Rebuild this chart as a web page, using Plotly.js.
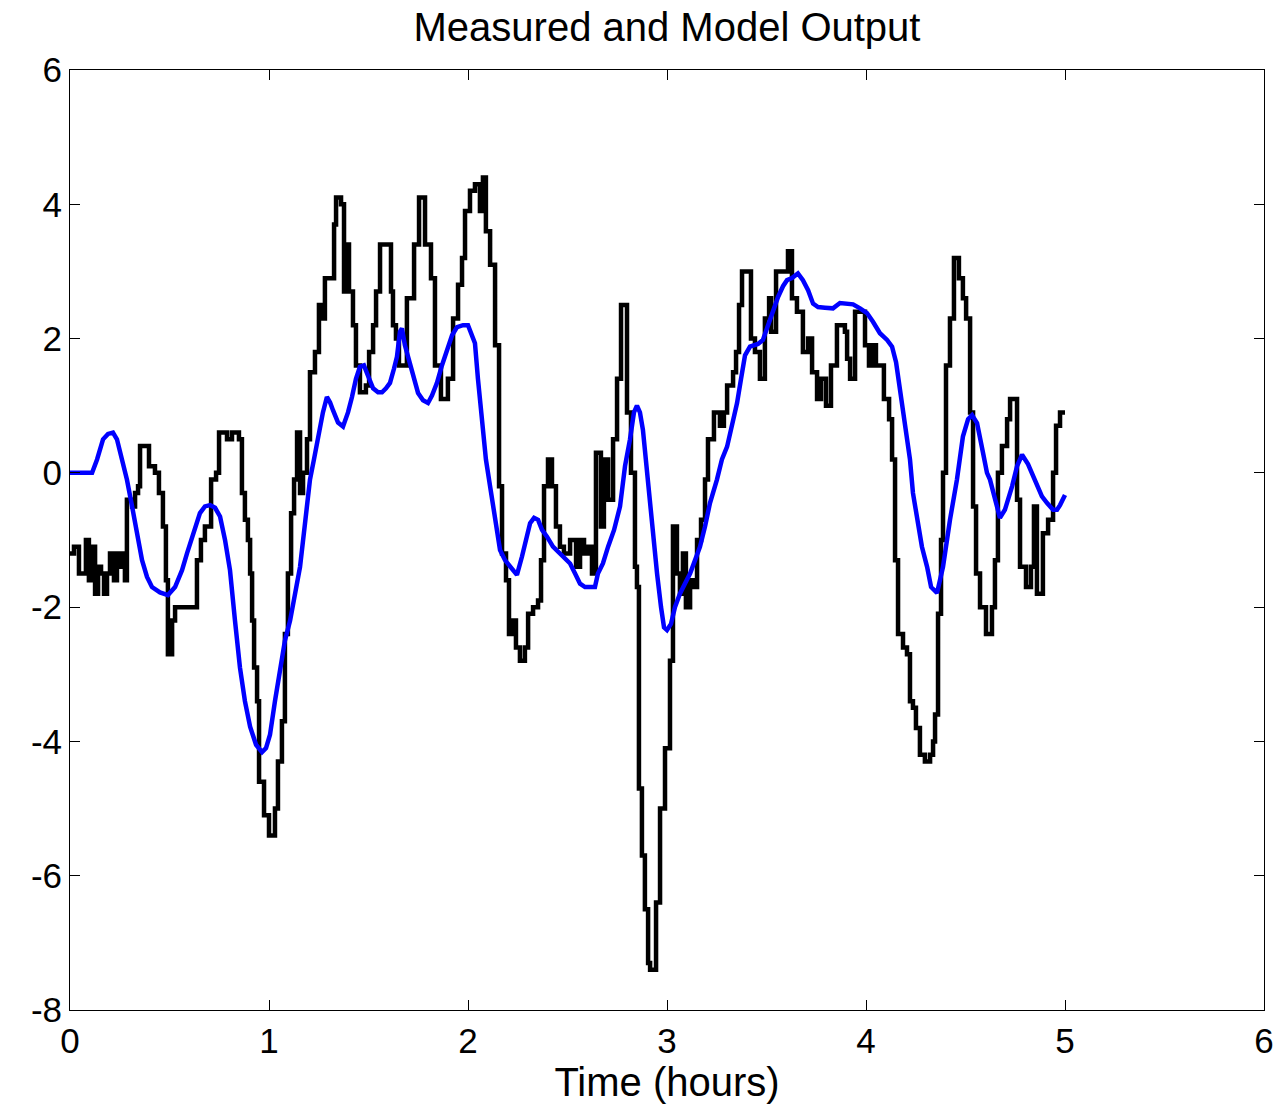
<!DOCTYPE html>
<html>
<head>
<meta charset="utf-8">
<script src="https://cdn.plot.ly/plotly-3.0.1.min.js"></script>
<style>html,body{margin:0;padding:0;background:#fff;}#chart{width:1274px;height:1106px;}</style>
</head>
<body>
<div id="chart"></div>
<script>
// Measured output (hours, value)
var measuredTime = [0.000,0.020,0.045,0.080,0.095,0.111,0.126,0.141,0.156,0.171,0.186,0.201,0.221,0.236,0.251,0.266,0.276,0.286,0.312,0.327,0.342,0.352,0.397,0.427,0.447,0.467,0.482,0.492,0.513,0.528,0.638,0.658,0.678,0.709,0.734,0.749,0.789,0.814,0.849,0.864,0.879,0.894,0.905,0.915,0.925,0.940,0.950,0.975,1.000,1.030,1.045,1.065,1.080,1.095,1.111,1.126,1.141,1.156,1.171,1.191,1.206,1.231,1.251,1.266,1.281,1.327,1.337,1.362,1.377,1.387,1.402,1.422,1.437,1.457,1.487,1.503,1.523,1.538,1.558,1.613,1.623,1.638,1.653,1.693,1.729,1.754,1.784,1.814,1.834,1.864,1.899,1.925,1.950,1.970,1.985,2.010,2.035,2.060,2.075,2.090,2.111,2.136,2.156,2.171,2.191,2.206,2.226,2.241,2.261,2.286,2.302,2.327,2.352,2.367,2.382,2.402,2.422,2.442,2.462,2.482,2.513,2.543,2.563,2.583,2.603,2.623,2.643,2.668,2.683,2.704,2.729,2.749,2.769,2.799,2.819,2.839,2.849,2.859,2.874,2.889,2.905,2.915,2.945,2.965,2.990,3.015,3.030,3.050,3.065,3.080,3.095,3.116,3.131,3.151,3.171,3.191,3.206,3.236,3.266,3.286,3.302,3.332,3.347,3.362,3.377,3.422,3.442,3.467,3.492,3.513,3.523,3.548,3.608,3.628,3.653,3.683,3.709,3.729,3.754,3.774,3.799,3.824,3.854,3.894,3.905,3.920,3.945,3.995,4.015,4.035,4.050,4.090,4.116,4.131,4.146,4.161,4.186,4.206,4.221,4.236,4.251,4.271,4.296,4.322,4.337,4.347,4.362,4.377,4.387,4.402,4.422,4.442,4.467,4.487,4.503,4.523,4.538,4.553,4.573,4.603,4.633,4.648,4.663,4.683,4.709,4.724,4.759,4.774,4.804,4.829,4.844,4.859,4.889,4.915,4.940,4.955,4.975,5.000];
var measuredValue = [-1.2,-1.1,-1.5,-1.0,-1.6,-1.1,-1.8,-1.4,-1.5,-1.8,-1.5,-1.2,-1.6,-1.2,-1.4,-1.2,-1.6,-0.4,-0.5,-0.3,-0.2,0.4,0.1,0.0,-0.3,-0.8,-1.6,-2.7,-2.2,-2.0,-1.3,-1.0,-0.8,-0.1,0.0,0.6,0.5,0.6,0.5,-0.3,-0.7,-1.0,-1.5,-2.2,-2.9,-3.4,-4.6,-5.1,-5.4,-5.0,-4.3,-3.7,-2.4,-1.5,-0.6,-0.1,0.6,-0.3,0.0,0.5,1.5,1.8,2.5,2.3,2.9,3.7,4.1,4.0,2.7,3.4,2.7,2.2,1.6,1.2,1.3,1.8,2.2,2.7,3.4,2.7,2.2,2.0,1.6,2.6,3.4,4.1,3.4,2.9,1.6,1.1,1.4,2.3,2.8,3.2,3.9,4.2,4.3,3.9,4.4,3.6,3.1,1.9,-0.2,-1.2,-1.6,-2.4,-2.2,-2.6,-2.8,-2.6,-2.1,-2.0,-1.9,-1.3,-0.2,0.2,-0.2,-0.8,-1.1,-1.2,-1.0,-1.4,-1.0,-1.2,-1.1,-1.5,0.3,-0.8,0.2,-0.4,0.5,1.4,2.5,0.9,0.0,-1.4,-1.7,-4.7,-5.7,-6.5,-7.3,-7.4,-6.4,-5.0,-4.1,-2.8,-0.8,-1.5,-1.8,-1.2,-2.0,-1.6,-1.7,-1.0,-0.7,-0.1,0.5,0.9,0.7,0.9,1.3,1.5,1.8,2.5,3.0,2.0,1.8,1.4,2.3,2.6,2.1,3.0,3.3,2.6,2.4,1.8,2.0,1.5,1.1,1.4,1.0,1.6,2.2,2.1,1.7,1.4,2.4,1.9,1.6,1.9,1.6,1.1,0.8,0.2,-1.3,-2.4,-2.6,-2.7,-3.4,-3.5,-3.8,-4.2,-4.3,-4.2,-4.0,-3.6,-2.1,-1.0,0.0,1.6,2.3,3.2,2.9,2.6,2.3,0.9,-0.5,-1.5,-2.0,-2.4,-2.0,-1.3,0.0,0.4,0.8,1.1,-0.4,-1.4,-1.7,-1.4,-0.5,-1.8,-0.9,-0.7,0.0,0.7,0.9,0.9];

// Model output (hours, value)
var modelTime = [0.000,0.111,0.136,0.166,0.191,0.216,0.236,0.261,0.286,0.312,0.337,0.362,0.387,0.412,0.452,0.492,0.528,0.563,0.588,0.618,0.653,0.678,0.704,0.729,0.754,0.779,0.804,0.829,0.854,0.879,0.905,0.935,0.965,0.985,1.005,1.030,1.055,1.080,1.106,1.131,1.156,1.181,1.206,1.226,1.246,1.271,1.291,1.307,1.322,1.347,1.372,1.397,1.417,1.437,1.457,1.477,1.497,1.523,1.548,1.568,1.588,1.608,1.628,1.643,1.658,1.668,1.683,1.709,1.729,1.749,1.774,1.799,1.819,1.844,1.869,1.894,1.920,1.945,1.975,2.000,2.015,2.035,2.050,2.070,2.090,2.111,2.136,2.161,2.186,2.211,2.226,2.246,2.271,2.291,2.312,2.332,2.352,2.372,2.397,2.427,2.462,2.492,2.513,2.538,2.563,2.588,2.613,2.638,2.653,2.678,2.704,2.734,2.764,2.789,2.814,2.834,2.849,2.864,2.879,2.899,2.915,2.935,2.950,2.970,2.985,3.000,3.020,3.040,3.065,3.090,3.116,3.141,3.166,3.191,3.216,3.251,3.276,3.302,3.327,3.352,3.372,3.392,3.417,3.457,3.482,3.508,3.533,3.558,3.583,3.603,3.628,3.658,3.683,3.709,3.734,3.759,3.794,3.834,3.869,3.910,3.935,3.970,4.005,4.035,4.070,4.106,4.131,4.151,4.171,4.191,4.206,4.221,4.236,4.261,4.281,4.307,4.327,4.357,4.387,4.422,4.457,4.487,4.513,4.533,4.558,4.588,4.608,4.623,4.648,4.673,4.698,4.734,4.759,4.784,4.814,4.839,4.859,4.884,4.910,4.940,4.960,4.975,5.000];
var modelValue = [0,0,0.2,0.5,0.58,0.6,0.5,0.2,-0.1,-0.5,-0.9,-1.3,-1.55,-1.7,-1.78,-1.82,-1.7,-1.45,-1.2,-0.9,-0.6,-0.5,-0.48,-0.52,-0.65,-1.0,-1.45,-2.2,-2.9,-3.4,-3.78,-4.05,-4.16,-4.1,-3.9,-3.4,-2.9,-2.5,-2.2,-1.8,-1.4,-0.75,-0.1,0.2,0.54,0.9,1.13,1.05,0.93,0.75,0.69,0.9,1.13,1.4,1.58,1.6,1.45,1.26,1.2,1.2,1.26,1.34,1.55,1.73,2.1,2.15,1.9,1.64,1.4,1.19,1.08,1.04,1.15,1.34,1.6,1.83,2.05,2.17,2.2,2.2,2.1,1.93,1.4,0.79,0.2,-0.2,-0.7,-1.15,-1.3,-1.4,-1.45,-1.52,-1.25,-1.0,-0.75,-0.67,-0.7,-0.85,-0.95,-1.1,-1.2,-1.3,-1.35,-1.5,-1.65,-1.7,-1.7,-1.7,-1.5,-1.35,-1.1,-0.85,-0.5,0.1,0.5,0.9,1.0,0.9,0.64,0.0,-0.4,-1.0,-1.5,-2.0,-2.3,-2.34,-2.25,-2.0,-1.8,-1.65,-1.5,-1.3,-1.1,-0.8,-0.45,-0.1,0.2,0.39,0.7,1.04,1.4,1.75,1.88,1.92,1.98,2.2,2.4,2.62,2.78,2.87,2.9,2.97,2.87,2.72,2.52,2.47,2.46,2.45,2.53,2.52,2.51,2.45,2.38,2.25,2.08,1.98,1.88,1.65,1.25,0.85,0.54,0.2,-0.3,-0.7,-1.1,-1.4,-1.7,-1.79,-1.4,-0.7,-0.1,0.54,0.8,0.86,0.74,0.3,0.0,-0.1,-0.4,-0.67,-0.55,-0.2,0.1,0.27,0.13,-0.05,-0.2,-0.35,-0.45,-0.55,-0.55,-0.48,-0.33];

var titleText = 'Measured and Model Output';
var xTitleText = 'Time (hours)';
var xTicks = [0,1,2,3,4,5,6];
var yTicks = [-8,-6,-4,-2,0,2,4,6];

var fontFam = 'Helvetica, "Liberation Sans", Arial, sans-serif';

var traces = [
  {x: measuredTime, y: measuredValue, type: 'scatter', mode: 'lines',
   line: {color: '#000000', width: 4.5, shape: 'hv'}, hoverinfo: 'skip'},
  {x: modelTime, y: modelValue, type: 'scatter', mode: 'lines',
   line: {color: '#0000ff', width: 4.5}, hoverinfo: 'skip'}
];

var axisCommon = {
  showline: true, linecolor: '#000', linewidth: 1, mirror: 'ticks',
  ticks: 'inside', ticklen: 10, tickwidth: 1, tickcolor: '#000',
  showgrid: false, zeroline: false, automargin: false,
  tickfont: {family: fontFam, size: 35, color: '#000'}
};

var layout = {
  width: 1274, height: 1106,
  margin: {l: 70, r: 10, t: 70, b: 96},
  paper_bgcolor: '#fff', plot_bgcolor: '#fff',
  showlegend: false,
  title: {text: titleText, font: {family: fontFam, size: 40, color: '#000'},
          x: 0.5, xref: 'paper', xanchor: 'center', y: 1 - 27/1106, yref: 'container', yanchor: 'middle'},
  xaxis: Object.assign({}, axisCommon, {
    range: [0, 6], tickvals: xTicks, ticktext: xTicks.map(String),
    title: {text: xTitleText, font: {family: fontFam, size: 40, color: '#000'}, standoff: 1}
  }),
  yaxis: Object.assign({}, axisCommon, {
    range: [-8, 6], tickvals: yTicks, ticktext: yTicks.map(String)
  })
};

Plotly.newPlot('chart', traces, layout, {displayModeBar: false, staticPlot: true});
</script>
</body>
</html>
